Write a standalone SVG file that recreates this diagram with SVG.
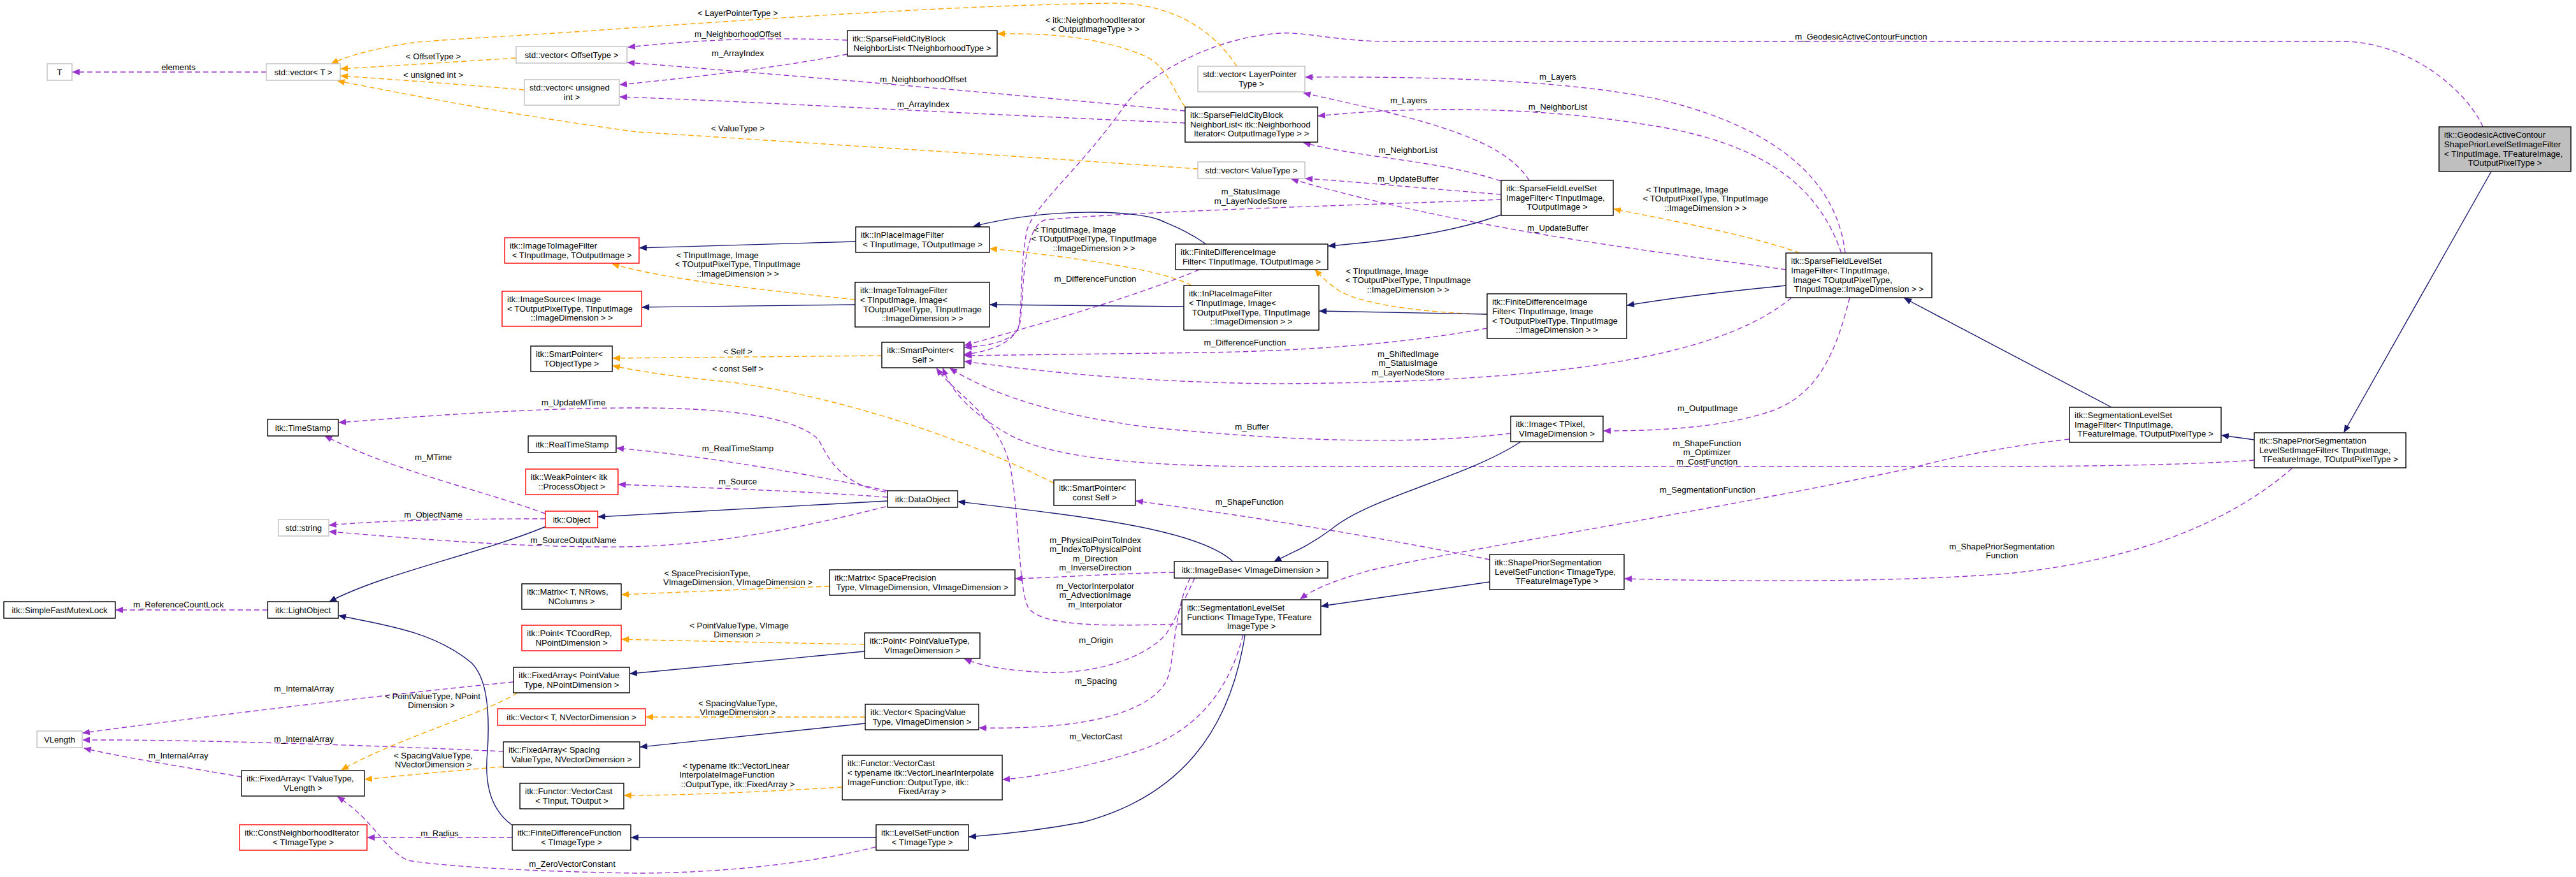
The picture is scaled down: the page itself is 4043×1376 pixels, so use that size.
<svg xmlns="http://www.w3.org/2000/svg" width="4043" height="1376" viewBox="0 0 4043 1376">
<defs>
<style>
text{font-family:"Liberation Sans",Arial,Helvetica,sans-serif;font-size:13.2px;fill:#000}
.c{text-anchor:middle}
.node rect{fill:#fff;stroke:#000;stroke-width:1.4}
.node.g rect{stroke:#bfbfbf}
.node.r rect{stroke:#f00}
.node.m rect{fill:#bfbfbf}
.u{fill:none;stroke:#9a32cd;stroke-width:1.4;stroke-dasharray:8,5;marker-end:url(#mu)}
.t{fill:none;stroke:#ffa500;stroke-width:1.4;stroke-dasharray:8,5;marker-end:url(#mt)}
.i{fill:none;stroke:#191970;stroke-width:1.4;marker-end:url(#mi)}
</style>
<marker id="mu" viewBox="0 0 12 10" refX="11" refY="5" markerWidth="12" markerHeight="10" orient="auto" markerUnits="userSpaceOnUse"><path d="M0,0L12,5L0,10z" fill="#9a32cd"/></marker>
<marker id="mt" viewBox="0 0 12 10" refX="11" refY="5" markerWidth="12" markerHeight="10" orient="auto" markerUnits="userSpaceOnUse"><path d="M0,0L12,5L0,10z" fill="#ffa500"/></marker>
<marker id="mi" viewBox="0 0 12 10" refX="11" refY="5" markerWidth="12" markerHeight="10" orient="auto" markerUnits="userSpaceOnUse"><path d="M0,0L12,5L0,10z" fill="#191970"/></marker>
</defs>
<rect x="0" y="0" width="4043" height="1376" fill="#fff"/>

<g id="connectors">
<!-- usage (purple) -->
<path class="u" d="M418,113 L114,113"/>
<path class="u" d="M1330,63 C1200,58 1100,62 986,74"/>
<path class="u" d="M1330,85 C1200,110 1050,125 973,133"/>
<path class="u" d="M1860,174 C1500,140 1200,115 985,98"/>
<path class="u" d="M1860,193 C1500,178 1200,160 973,152"/>
<path class="u" d="M2896,397 C2880,260 2750,190 2600,155 C2450,125 2250,120 2049,121"/>
<path class="u" d="M2400,283 C2360,220 2250,190 2046,146"/>
<path class="u" d="M2890,397 C2850,280 2750,220 2580,195 C2400,165 2200,168 2069,182"/>
<path class="u" d="M2356,284 C2250,250 2150,250 2046,224"/>
<path class="u" d="M2356,305 C2250,297 2150,287 2049,280"/>
<path class="u" d="M2803,423 C2600,395 2300,360 2027,281"/>
<path class="u" d="M2356,313 C2200,320 1800,330 1640,345 C1600,360 1608,480 1600,510 C1590,540 1550,552 1514,556"/>
<path class="u" d="M3897,199 C3870,140 3780,65 3675,65 L2181,65 C2100,65 2050,50 2011,52 C1900,58 1800,120 1767,163 C1700,260 1625,320 1612,360 C1600,420 1605,490 1598,515 C1590,535 1550,543 1514,545"/>
<path class="u" d="M1882,423 C1820,450 1700,490 1514,542"/>
<path class="u" d="M2334,515 C2200,540 2050,550 1900,553 L1514,558"/>
<path class="u" d="M2812,467 C2700,560 2450,600 2000,602 C1800,600 1650,585 1514,567"/>
<path class="u" d="M2371,680 C2200,700 2000,690 1800,670 C1650,650 1560,620 1491,578"/>
<path class="u" d="M3538,722 C3400,732 3200,732 3000,732 L2000,732 C1800,732 1650,720 1580,680 C1530,650 1495,620 1480,578"/>
<path class="u" d="M1855,979 C1750,982 1640,985 1615,955 C1598,930 1600,800 1585,730 C1565,650 1500,620 1470,578"/>
<path class="u" d="M2903,467 C2880,560 2850,620 2780,645 C2700,672 2600,676 2517,676"/>
<path class="u" d="M3248,689 C3150,700 3050,720 3006,733 C2700,800 2300,860 2150,895 C2090,912 2060,925 2041,940"/>
<path class="u" d="M2338,878 C2200,850 2000,815 1783,786"/>
<path class="u" d="M3597,735 C3500,820 3350,880 3150,900 C2950,915 2700,912 2550,908"/>
<path class="u" d="M1390,772 C1320,760 1300,720 1285,690 C1250,655 1150,640 1000,640 C850,640 700,650 532,663"/>
<path class="u" d="M1393,770 C1250,740 1100,715 968,703"/>
<path class="u" d="M1393,780 C1250,770 1100,765 971,760"/>
<path class="u" d="M1390,795 C1250,830 1100,860 950,858 C800,858 650,845 517,834"/>
<path class="u" d="M856,806 C760,770 620,740 510,684"/>
<path class="u" d="M856,814 C750,814 620,815 517,824"/>
<path class="u" d="M420,957 L182,957"/>
<path class="u" d="M806,1070 C650,1085 350,1120 130,1150"/>
<path class="u" d="M790,1179 C600,1170 300,1160 130,1161"/>
<path class="u" d="M379,1219 C300,1205 200,1190 132,1174"/>
<path class="u" d="M804,1314 L577,1314"/>
<path class="u" d="M1374,1329 C1250,1360 1100,1370 1000,1370 C850,1368 700,1360 640,1350 C600,1330 590,1290 530,1250"/>
<path class="u" d="M1843,898 C1750,900 1680,905 1594,908"/>
<path class="u" d="M1875,907 C1860,940 1840,980 1830,995 C1790,1040 1700,1058 1640,1055 C1580,1052 1540,1045 1514,1034"/>
<path class="u" d="M1868,907 C1840,960 1845,1040 1830,1070 C1800,1120 1700,1145 1537,1142"/>
<path class="u" d="M1951,996 C1930,1080 1880,1150 1780,1180 C1700,1205 1620,1220 1574,1223"/>
<!-- template (orange) -->
<path class="t" d="M1941,104 C1900,40 1830,5 1748,5 C1500,8 1200,30 1000,43 C800,58 680,62 640,68 C580,78 545,88 520,100"/>
<path class="t" d="M810,91 C700,98 620,103 535,108"/>
<path class="t" d="M823,141 C720,132 620,125 535,119"/>
<path class="t" d="M1880,265 C1600,245 1200,220 1000,207 C800,180 650,150 530,127"/>
<path class="t" d="M1860,168 C1835,130 1830,100 1790,85 C1720,58 1650,52 1566,53"/>
<path class="t" d="M2825,397 C2750,370 2620,345 2533,328"/>
<path class="t" d="M1870,448 C1830,425 1700,405 1554,390"/>
<path class="t" d="M1342,470 C1200,455 1050,440 961,414"/>
<path class="t" d="M2334,493 C2200,490 2120,470 2100,455 C2085,445 2075,435 2064,423"/>
<path class="t" d="M1384,558 L962,562"/>
<path class="t" d="M1654,758 C1500,680 1300,620 1150,600 C1050,590 1000,582 962,574"/>
<path class="t" d="M1302,920 C1150,925 1050,930 976,933"/>
<path class="t" d="M1357,1011 C1200,1008 1050,1005 976,1003"/>
<path class="t" d="M1358,1125 L1014,1125"/>
<path class="t" d="M1322,1235 C1150,1245 1050,1248 980,1248"/>
<path class="t" d="M812,1087 C760,1120 620,1160 536,1208"/>
<path class="t" d="M790,1203 C700,1210 620,1218 573,1223"/>
<!-- inheritance (blue) -->
<path class="i" d="M3910,269 L3679,678"/>
<path class="i" d="M3538,690 L3487,683"/>
<path class="i" d="M3314,639 L2989,468"/>
<path class="i" d="M2803,448 C2700,458 2620,468 2554,479"/>
<path class="i" d="M2356,337 C2280,365 2180,378 2085,386"/>
<path class="i" d="M1893,383 C1860,360 1835,352 1820,345 C1780,330 1650,325 1528,355"/>
<path class="i" d="M1343,379 L1004,389"/>
<path class="i" d="M2334,493 L2071,488"/>
<path class="i" d="M1858,481 L1554,478"/>
<path class="i" d="M1342,478 L1008,482"/>
<path class="i" d="M2387,693 C2300,750 2150,780 2090,830 C2050,860 2020,870 2000,881"/>
<path class="i" d="M1935,881 C1880,830 1700,810 1504,787"/>
<path class="i" d="M1393,786 L939,811"/>
<path class="i" d="M857,826 C750,870 600,900 517,944"/>
<path class="i" d="M803,1294 C770,1270 760,1230 765,1180 C770,1100 760,1060 740,1040 C680,990 600,980 532,966"/>
<path class="i" d="M1357,1022 L989,1057"/>
<path class="i" d="M1358,1135 L1005,1172"/>
<path class="i" d="M1375,1314 L991,1314"/>
<path class="i" d="M1954,996 C1930,1150 1850,1250 1700,1290 C1620,1305 1560,1310 1521,1313"/>
<path class="i" d="M2338,913 L2074,951"/>

<!-- edge labels -->
<g id="edge-labels" class="c">
<text x="280" y="109.5">elements</text>
<text x="1158" y="57.5">m_NeighborhoodOffset</text>
<text x="1158" y="87.5">m_ArrayIndex</text>
<text x="1449" y="128.5">m_NeighborhoodOffset</text>
<text x="1449" y="167.5">m_ArrayIndex</text>
<text x="2445" y="124.5">m_Layers</text>
<text x="2211" y="161.5">m_Layers</text>
<text x="2445" y="171.5">m_NeighborList</text>
<text x="2210" y="239.5">m_NeighborList</text>
<text x="2210" y="284.5">m_UpdateBuffer</text>
<text x="2445" y="361.5">m_UpdateBuffer</text>
<text x="1963" y="304.5">m_StatusImage</text>
<text x="1963" y="319.5">m_LayerNodeStore</text>
<text x="2921" y="61.5">m_GeodesicActiveContourFunction</text>
<text x="1719" y="441.5">m_DifferenceFunction</text>
<text x="1954" y="541.5">m_DifferenceFunction</text>
<text x="2210" y="559.5">m_ShiftedImage</text>
<text x="2210" y="574">m_StatusImage</text>
<text x="2210" y="588.5">m_LayerNodeStore</text>
<text x="1965" y="673.5">m_Buffer</text>
<text x="2679" y="699.5">m_ShapeFunction</text>
<text x="2679" y="714">m_Optimizer</text>
<text x="2679" y="728.5">m_CostFunction</text>
<text x="1719" y="923.5">m_VectorInterpolator</text>
<text x="1719" y="938">m_AdvectionImage</text>
<text x="1719" y="952.5">m_Interpolator</text>
<text x="2680" y="644.5">m_OutputImage</text>
<text x="2680" y="772.5">m_SegmentationFunction</text>
<text x="1961" y="791.5">m_ShapeFunction</text>
<text x="3142" y="861.5">m_ShapePriorSegmentation</text>
<text x="3142" y="876">Function</text>
<text x="900" y="635.5">m_UpdateMTime</text>
<text x="1158" y="707.5">m_RealTimeStamp</text>
<text x="1158" y="759.5">m_Source</text>
<text x="900" y="851.5">m_SourceOutputName</text>
<text x="680" y="721.5">m_MTime</text>
<text x="680" y="811.5">m_ObjectName</text>
<text x="280" y="952.5">m_ReferenceCountLock</text>
<text x="477" y="1084.5">m_InternalArray</text>
<text x="477" y="1163.5">m_InternalArray</text>
<text x="280" y="1189.5">m_InternalArray</text>
<text x="690" y="1311.5">m_Radius</text>
<text x="898" y="1359.5">m_ZeroVectorConstant</text>
<text x="1719" y="851.5">m_PhysicalPointToIndex</text>
<text x="1719" y="866">m_IndexToPhysicalPoint</text>
<text x="1719" y="880.5">m_Direction</text>
<text x="1719" y="895">m_InverseDirection</text>
<text x="1720" y="1008.5">m_Origin</text>
<text x="1720" y="1072.5">m_Spacing</text>
<text x="1720" y="1159.5">m_VectorCast</text>
<text x="1158" y="24.5">&lt; LayerPointerType &gt;</text>
<text x="680" y="92.5">&lt; OffsetType &gt;</text>
<text x="680" y="121.5">&lt; unsigned int &gt;</text>
<text x="1158" y="205.5">&lt; ValueType &gt;</text>
<text x="1719" y="35.5">&lt; itk::NeighborhoodIterator</text>
<text x="1719" y="50">&lt; OutputImageType &gt; &gt;</text>
<text x="2648" y="301.5">&lt; TInputImage, Image</text>
<text x="2677" y="316">&lt; TOutputPixelType, TInputImage</text>
<text x="2677" y="330.5">::ImageDimension &gt; &gt;</text>
<text x="1687" y="364.5">&lt; TInputImage, Image</text>
<text x="1717" y="379">&lt; TOutputPixelType, TInputImage</text>
<text x="1717" y="393.5">::ImageDimension &gt; &gt;</text>
<text x="1126" y="404.5">&lt; TInputImage, Image</text>
<text x="1158" y="419">&lt; TOutputPixelType, TInputImage</text>
<text x="1158" y="433.5">::ImageDimension &gt; &gt;</text>
<text x="2177" y="429.5">&lt; TInputImage, Image</text>
<text x="2210" y="444">&lt; TOutputPixelType, TInputImage</text>
<text x="2210" y="458.5">::ImageDimension &gt; &gt;</text>
<text x="1158" y="555.5">&lt; Self &gt;</text>
<text x="1158" y="582.5">&lt; const Self &gt;</text>
<text x="1110" y="903.5">&lt; SpacePrecisionType,</text>
<text x="1158" y="917.5">VImageDimension, VImageDimension &gt;</text>
<text x="1160" y="985.5">&lt; PointValueType, VImage</text>
<text x="1157" y="1000">Dimension &gt;</text>
<text x="1158" y="1107.5">&lt; SpacingValueType,</text>
<text x="1158" y="1121.5">VImageDimension &gt;</text>
<text x="1155" y="1205.5">&lt; typename itk::VectorLinear</text>
<text x="1141" y="1220">InterpolateImageFunction</text>
<text x="1158" y="1235">::OutputType, itk::FixedArray &gt;</text>
<text x="679" y="1096.5">&lt; PointValueType, NPoint</text>
<text x="677" y="1111">Dimension &gt;</text>
<text x="680" y="1189.5">&lt; SpacingValueType,</text>
<text x="680" y="1204">NVectorDimension &gt;</text>
</g>
</g>

<g id="n_T" class="node g"><rect x="74" y="100" width="39" height="26"/><text class="c" x="93.5" y="118">T</text></g>
<g id="n_vecT" class="node g"><rect x="418" y="100" width="116" height="26"/><text class="c" x="476" y="118">std::vector&lt; T &gt;</text></g>
<g id="n_vecOffset" class="node g"><rect x="810" y="73" width="174" height="26"/><text class="c" x="897" y="91">std::vector&lt; OffsetType &gt;</text></g>
<g id="n_vecUInt" class="node g"><rect x="823" y="125" width="149" height="40"/><text x="831" y="142">std::vector&lt; unsigned</text><text class="c" x="897.5" y="157">int &gt;</text></g>
<g id="n_SFCBNL" class="node"><rect x="1330" y="48" width="235" height="40"/><text x="1338" y="65">itk::SparseFieldCityBlock</text><text class="c" x="1447.5" y="80">NeighborList&lt; TNeighborhoodType &gt;</text></g>
<g id="n_vecLayer" class="node g"><rect x="1880" y="104" width="168" height="40"/><text x="1888" y="121">std::vector&lt; LayerPointer</text><text class="c" x="1964" y="136">Type &gt;</text></g>
<g id="n_SFCBNL2" class="node"><rect x="1860" y="168" width="208" height="55"/><text x="1868" y="185">itk::SparseFieldCityBlock</text><text x="1868" y="200">NeighborList&lt; itk::Neighborhood</text><text class="c" x="1964" y="214">Iterator&lt; OutputImageType &gt; &gt;</text></g>
<g id="n_vecValue" class="node g"><rect x="1880" y="254" width="168" height="26"/><text class="c" x="1964" y="272">std::vector&lt; ValueType &gt;</text></g>
<g id="n_SFLS1" class="node"><rect x="2356" y="283" width="176" height="55"/><text x="2364" y="300">itk::SparseFieldLevelSet</text><text x="2364" y="315">ImageFilter&lt; TInputImage,</text><text class="c" x="2444" y="329">TOutputImage &gt;</text></g>
<g id="n_SFLS2" class="node"><rect x="2803" y="397" width="229" height="70"/><text x="2811" y="414">itk::SparseFieldLevelSet</text><text x="2811" y="429">ImageFilter&lt; TInputImage,</text><text x="2814" y="444">Image&lt; TOutputPixelType,</text><text class="c" x="2917.5" y="458">TInputImage::ImageDimension &gt; &gt;</text></g>
<g id="n_GAC" class="node m"><rect x="3828" y="199" width="207" height="70"/><text x="3836" y="216">itk::GeodesicActiveContour</text><text x="3836" y="231">ShapePriorLevelSetImageFilter</text><text x="3836" y="246">&lt; TInputImage, TFeatureImage,</text><text class="c" x="3931.5" y="260">TOutputPixelType &gt;</text></g>
<g id="n_ITIF1" class="node r"><rect x="792" y="373" width="211" height="40"/><text x="800" y="390">itk::ImageToImageFilter</text><text class="c" x="897.5" y="405">&lt; TInputImage, TOutputImage &gt;</text></g>
<g id="n_InPlace1" class="node"><rect x="1343" y="356" width="210" height="40"/><text x="1351" y="373">itk::InPlaceImageFilter</text><text class="c" x="1448" y="388">&lt; TInputImage, TOutputImage &gt;</text></g>
<g id="n_FDIF1" class="node"><rect x="1845" y="383" width="239" height="40"/><text x="1853" y="400">itk::FiniteDifferenceImage</text><text class="c" x="1964.5" y="415">Filter&lt; TInputImage, TOutputImage &gt;</text></g>
<g id="n_ImageSource" class="node r"><rect x="788" y="457" width="219" height="55"/><text x="796" y="474">itk::ImageSource&lt; Image</text><text x="796" y="489">&lt; TOutputPixelType, TInputImage</text><text class="c" x="897.5" y="503">::ImageDimension &gt; &gt;</text></g>
<g id="n_ITIF2" class="node"><rect x="1342" y="443" width="211" height="70"/><text x="1350" y="460">itk::ImageToImageFilter</text><text x="1350" y="475">&lt; TInputImage, Image&lt;</text><text x="1355" y="490">TOutputPixelType, TInputImage</text><text class="c" x="1447.5" y="504">::ImageDimension &gt; &gt;</text></g>
<g id="n_InPlace2" class="node"><rect x="1858" y="448" width="212" height="70"/><text x="1866" y="465">itk::InPlaceImageFilter</text><text x="1866" y="480">&lt; TInputImage, Image&lt;</text><text x="1871" y="495">TOutputPixelType, TInputImage</text><text class="c" x="1964" y="509">::ImageDimension &gt; &gt;</text></g>
<g id="n_FDIF2" class="node"><rect x="2334" y="461" width="219" height="70"/><text x="2342" y="478">itk::FiniteDifferenceImage</text><text x="2342" y="493">Filter&lt; TInputImage, Image</text><text x="2342" y="508">&lt; TOutputPixelType, TInputImage</text><text class="c" x="2443.5" y="522">::ImageDimension &gt; &gt;</text></g>
<g id="n_SPTObj" class="node"><rect x="833" y="543" width="128" height="40"/><text x="841" y="560">itk::SmartPointer&lt;</text><text class="c" x="897" y="575">TObjectType &gt;</text></g>
<g id="n_SPSelf" class="node"><rect x="1384" y="537" width="129" height="40"/><text x="1392" y="554">itk::SmartPointer&lt;</text><text class="c" x="1448.5" y="569">Self &gt;</text></g>
<g id="n_TimeStamp" class="node"><rect x="420" y="658" width="111" height="26"/><text class="c" x="475.5" y="676">itk::TimeStamp</text></g>
<g id="n_RealTimeStamp" class="node"><rect x="829" y="684" width="138" height="26"/><text class="c" x="898" y="702">itk::RealTimeStamp</text></g>
<g id="n_WeakPtr" class="node r"><rect x="825" y="736" width="145" height="40"/><text x="833" y="753">itk::WeakPointer&lt; itk</text><text class="c" x="897.5" y="768">::ProcessObject &gt;</text></g>
<g id="n_SPConst" class="node"><rect x="1654" y="753" width="128" height="40"/><text x="1662" y="770">itk::SmartPointer&lt;</text><text class="c" x="1718" y="785">const Self &gt;</text></g>
<g id="n_DataObject" class="node"><rect x="1393" y="770" width="110" height="26"/><text class="c" x="1448" y="788">itk::DataObject</text></g>
<g id="n_Object" class="node r"><rect x="856" y="802" width="82" height="26"/><text class="c" x="897" y="820">itk::Object</text></g>
<g id="n_string" class="node g"><rect x="437" y="815" width="79" height="26"/><text class="c" x="476.5" y="833">std::string</text></g>
<g id="n_Image" class="node"><rect x="2371" y="653" width="145" height="40"/><text x="2379" y="670">itk::Image&lt; TPixel,</text><text class="c" x="2443.5" y="685">VImageDimension &gt;</text></g>
<g id="n_SegLSIF" class="node"><rect x="3248" y="639" width="238" height="55"/><text x="3256" y="656">itk::SegmentationLevelSet</text><text x="3256" y="671">ImageFilter&lt; TInputImage,</text><text class="c" x="3367" y="685">TFeatureImage, TOutputPixelType &gt;</text></g>
<g id="n_SPSLSIF" class="node"><rect x="3538" y="679" width="238" height="55"/><text x="3546" y="696">itk::ShapePriorSegmentation</text><text x="3546" y="711">LevelSetImageFilter&lt; TInputImage,</text><text class="c" x="3657" y="725">TFeatureImage, TOutputPixelType &gt;</text></g>
<g id="n_ImageBase" class="node"><rect x="1843" y="881" width="241" height="26"/><text class="c" x="1963.5" y="899">itk::ImageBase&lt; VImageDimension &gt;</text></g>
<g id="n_SPSLSF" class="node"><rect x="2338" y="870" width="211" height="55"/><text x="2346" y="887">itk::ShapePriorSegmentation</text><text x="2346" y="902">LevelSetFunction&lt; TImageType,</text><text class="c" x="2443.5" y="916">TFeatureImageType &gt;</text></g>
<g id="n_Matrix2" class="node"><rect x="1302" y="894" width="291" height="40"/><text x="1310" y="911">itk::Matrix&lt; SpacePrecision</text><text class="c" x="1447.5" y="926">Type, VImageDimension, VImageDimension &gt;</text></g>
<g id="n_LightObject" class="node"><rect x="420" y="944" width="111" height="26"/><text class="c" x="475.5" y="962">itk::LightObject</text></g>
<g id="n_Mutex" class="node"><rect x="6" y="944" width="175" height="26"/><text class="c" x="93.5" y="962">itk::SimpleFastMutexLock</text></g>
<g id="n_MatrixT" class="node"><rect x="819" y="916" width="156" height="40"/><text x="827" y="933">itk::Matrix&lt; T, NRows,</text><text class="c" x="897" y="948">NColumns &gt;</text></g>
<g id="n_SegLSF" class="node"><rect x="1855" y="941" width="218" height="55"/><text x="1863" y="958">itk::SegmentationLevelSet</text><text x="1863" y="973">Function&lt; TImageType, TFeature</text><text class="c" x="1964" y="987">ImageType &gt;</text></g>
<g id="n_PointT" class="node r"><rect x="819" y="981" width="156" height="40"/><text x="827" y="998">itk::Point&lt; TCoordRep,</text><text class="c" x="897" y="1013">NPointDimension &gt;</text></g>
<g id="n_Point2" class="node"><rect x="1357" y="993" width="181" height="40"/><text x="1365" y="1010">itk::Point&lt; PointValueType,</text><text class="c" x="1447.5" y="1025">VImageDimension &gt;</text></g>
<g id="n_FAPoint" class="node"><rect x="806" y="1047" width="182" height="40"/><text x="814" y="1064">itk::FixedArray&lt; PointValue</text><text class="c" x="897" y="1079">Type, NPointDimension &gt;</text></g>
<g id="n_VectorT" class="node r"><rect x="781" y="1112" width="232" height="26"/><text class="c" x="897" y="1130">itk::Vector&lt; T, NVectorDimension &gt;</text></g>
<g id="n_Vector2" class="node"><rect x="1358" y="1105" width="178" height="40"/><text x="1366" y="1122">itk::Vector&lt; SpacingValue</text><text class="c" x="1447" y="1137">Type, VImageDimension &gt;</text></g>
<g id="n_FASpacing" class="node"><rect x="790" y="1164" width="214" height="40"/><text x="798" y="1181">itk::FixedArray&lt; Spacing</text><text class="c" x="897" y="1196">ValueType, NVectorDimension &gt;</text></g>
<g id="n_VLength" class="node g"><rect x="58" y="1147" width="71" height="26"/><text class="c" x="93.5" y="1165">VLength</text></g>
<g id="n_VectorCastT" class="node"><rect x="816" y="1229" width="163" height="40"/><text x="824" y="1246">itk::Functor::VectorCast</text><text class="c" x="897.5" y="1261">&lt; TInput, TOutput &gt;</text></g>
<g id="n_VectorCast2" class="node"><rect x="1322" y="1185" width="251" height="70"/><text x="1330" y="1202">itk::Functor::VectorCast</text><text x="1330" y="1217">&lt; typename itk::VectorLinearInterpolate</text><text x="1330" y="1232">ImageFunction::OutputType, itk::</text><text class="c" x="1447.5" y="1246">FixedArray &gt;</text></g>
<g id="n_FATValue" class="node"><rect x="379" y="1209" width="193" height="40"/><text x="387" y="1226">itk::FixedArray&lt; TValueType,</text><text class="c" x="475.5" y="1241">VLength &gt;</text></g>
<g id="n_CNI" class="node r"><rect x="376" y="1294" width="200" height="40"/><text x="384" y="1311">itk::ConstNeighborhoodIterator</text><text class="c" x="476" y="1326">&lt; TImageType &gt;</text></g>
<g id="n_FDF" class="node"><rect x="804" y="1294" width="186" height="40"/><text x="812" y="1311">itk::FiniteDifferenceFunction</text><text class="c" x="897" y="1326">&lt; TImageType &gt;</text></g>
<g id="n_LSF" class="node"><rect x="1375" y="1294" width="145" height="40"/><text x="1383" y="1311">itk::LevelSetFunction</text><text class="c" x="1447.5" y="1326">&lt; TImageType &gt;</text></g>
</svg>
